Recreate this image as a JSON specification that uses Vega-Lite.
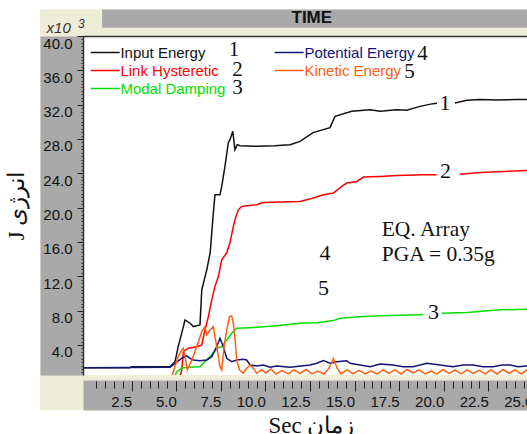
{
  "$schema": "https://vega.github.io/schema/vega-lite/v6.json",
  "width": 456,
  "height": 339,
  "autosize": {"type": "none"},
  "padding": {"left": 83, "top": 36, "right": -12, "bottom": 59},
  "background": "white",
  "config": {"view": {"stroke": null}, "axis": {"zindex": 1, "grid": false}},
  "resolve": {"axis": {"x": "independent", "y": "independent"}},
  "layer": [
    {
      "data": {"values": [{}]},
      "mark": {"type": "rect", "fill": "#eeeed8", "clip": false},
      "encoding": {
        "x": {"datum": -2.64, "type": "quantitative", "scale": {"domain": [-0.23, 25.34], "nice": false, "zero": false},
          "axis": {"zindex": 1, "orient": "bottom", "offset": 20, "domain": true, "domainColor": "#a9a9a9", "domainWidth": 30, "ticks": false, "labels": false, "title": null}},
        "x2": {"datum": 27},
        "y": {"datum": 43.09, "type": "quantitative", "scale": {"domain": [0.5, 40], "nice": false, "zero": false},
          "axis": {"zindex": 1, "orient": "left", "offset": 21.5, "domain": true, "domainColor": "#a9a9a9", "domainWidth": 43, "ticks": false, "labels": false, "title": null}},
        "y2": {"datum": -3.6}
      }
    },
    {
      "data": {"values": [{}]},
      "mark": {"type": "rect", "fill": "white", "clip": false},
      "encoding": {
        "x": {"datum": -0.23, "type": "quantitative", "scale": {"domain": [-0.23, 25.34], "nice": false, "zero": false},
          "axis": {"zindex": 1, "orient": "top", "offset": 0, "domain": true, "domainColor": "#333333", "domainWidth": 1.5, "ticks": false, "labels": false, "title": null}},
        "x2": {"datum": 25.34},
        "y": {"datum": 0.5, "type": "quantitative", "scale": {"domain": [0.5, 40], "nice": false, "zero": false},
          "axis": {"zindex": 1, "orient": "left", "values": [0.8,1.2,1.6,2,2.4,2.8,3.2,3.6,4,4.4,4.8,5.2,5.6,6,6.4,6.8,7.2,7.6,8,8.4,8.8,9.2,9.6,10,10.4,10.8,11.2,11.6,12,12.4,12.8,13.2,13.6,14,14.4,14.8,15.2,15.6,16,16.4,16.8,17.2,17.6,18,18.4,18.8,19.2,19.6,20,20.4,20.8,21.2,21.6,22,22.4,22.8,23.2,23.6,24,24.4,24.8,25.2,25.6,26,26.4,26.8,27.2,27.6,28,28.4,28.8,29.2,29.6,30,30.4,30.8,31.2,31.6,32,32.4,32.8,33.2,33.6,34,34.4,34.8,35.2,35.6,36,36.4,36.8,37.2,37.6,38,38.4,38.8,39.2,39.6,40], "domain": false, "tickSize": 2, "tickColor": "#333333", "labels": false, "title": null}},
        "y2": {"datum": 40}
      }
    },
    {
      "data": {"values": [{}]},
      "mark": {"type": "rect", "fill": "#a9a9a9", "clip": false},
      "encoding": {
        "x": {"datum": 0.84, "type": "quantitative", "scale": {"domain": [-0.23, 25.34], "nice": false, "zero": false},
          "axis": {"zindex": 1, "orient": "bottom", "offset": 6, "values": [0.5,1,1.5,2,2.5,3,3.5,4,4.5,5,5.5,6,6.5,7,7.5,8,8.5,9,9.5,10,10.5,11,11.5,12,12.5,13,13.5,14,14.5,15,15.5,16,16.5,17,17.5,18,18.5,19,19.5,20,20.5,21,21.5,22,22.5,23,23.5,24,24.5,25], "domain": false, "tickSize": 7, "tickColor": "#222222", "labels": false, "title": null}},
        "x2": {"datum": 27},
        "y": {"datum": 43.09, "type": "quantitative", "scale": {"domain": [0.5, 40], "nice": false, "zero": false},
          "axis": {"zindex": 1, "orient": "left", "values": [4,8,12,16,20,24,28,32,36,40], "format": ".1f", "domain": true, "domainColor": "#333333", "domainWidth": 1.5, "tickSize": 6, "tickColor": "#222222", "labelPadding": 5, "labelBaseline": "top", "labelDy": 3, "labelFont": "Liberation Sans", "labelFontSize": 15, "labelColor": "#111111", "labelFlush": false, "labelOverlap": false, "title": "J انرژی", "titleFont": "Liberation Serif", "titleFontSize": 23, "titleFontWeight": "normal", "titleColor": "#111111", "titlePadding": 14}},
        "y2": {"datum": 40.95}
      }
    },
    {
      "data": {"values": [
        {"series": "Input Energy", "part": "a", "t": -0.2, "e": 1.35},
        {"series": "Input Energy", "part": "a", "t": 2.4, "e": 1.35},
        {"series": "Input Energy", "part": "a", "t": 2.5, "e": 1.45},
        {"series": "Input Energy", "part": "a", "t": 4.65, "e": 1.45},
        {"series": "Input Energy", "part": "a", "t": 4.93, "e": 2.05},
        {"series": "Input Energy", "part": "a", "t": 5.11, "e": 3.8},
        {"series": "Input Energy", "part": "a", "t": 5.4, "e": 6.14},
        {"series": "Input Energy", "part": "a", "t": 5.49, "e": 6.92},
        {"series": "Input Energy", "part": "a", "t": 5.77, "e": 6.53},
        {"series": "Input Energy", "part": "a", "t": 5.96, "e": 6.14},
        {"series": "Input Energy", "part": "a", "t": 6.33, "e": 6.34},
        {"series": "Input Energy", "part": "a", "t": 6.43, "e": 10.42},
        {"series": "Input Energy", "part": "a", "t": 6.71, "e": 12.75},
        {"series": "Input Energy", "part": "a", "t": 6.9, "e": 14.74},
        {"series": "Input Energy", "part": "a", "t": 6.99, "e": 17.07},
        {"series": "Input Energy", "part": "a", "t": 7.08, "e": 19.4},
        {"series": "Input Energy", "part": "a", "t": 7.17, "e": 21.5},
        {"series": "Input Energy", "part": "a", "t": 7.45, "e": 21.5},
        {"series": "Input Energy", "part": "a", "t": 7.55, "e": 22.47},
        {"series": "Input Energy", "part": "a", "t": 7.73, "e": 24.8},
        {"series": "Input Energy", "part": "a", "t": 7.92, "e": 27.57},
        {"series": "Input Energy", "part": "a", "t": 8.01, "e": 27.92},
        {"series": "Input Energy", "part": "a", "t": 8.17, "e": 28.89},
        {"series": "Input Energy", "part": "a", "t": 8.29, "e": 26.75},
        {"series": "Input Energy", "part": "a", "t": 8.42, "e": 27.34},
        {"series": "Input Energy", "part": "a", "t": 8.58, "e": 27.22},
        {"series": "Input Energy", "part": "a", "t": 9.51, "e": 27.14},
        {"series": "Input Energy", "part": "a", "t": 10.5, "e": 27.2},
        {"series": "Input Energy", "part": "a", "t": 11.38, "e": 27.34},
        {"series": "Input Energy", "part": "a", "t": 11.94, "e": 27.72},
        {"series": "Input Energy", "part": "a", "t": 12.67, "e": 28.74},
        {"series": "Input Energy", "part": "a", "t": 13.62, "e": 29.32},
        {"series": "Input Energy", "part": "a", "t": 13.9, "e": 30.64},
        {"series": "Input Energy", "part": "a", "t": 14.84, "e": 31.22},
        {"series": "Input Energy", "part": "a", "t": 15.87, "e": 31.42},
        {"series": "Input Energy", "part": "a", "t": 16.43, "e": 31.22},
        {"series": "Input Energy", "part": "a", "t": 17.36, "e": 31.42},
        {"series": "Input Energy", "part": "a", "t": 17.92, "e": 31.34},
        {"series": "Input Energy", "part": "a", "t": 18.67, "e": 31.8},
        {"series": "Input Energy", "part": "a", "t": 19.4, "e": 32.12},
        {"series": "Input Energy", "part": "a", "t": 19.62, "e": 32.15},
        {"series": "Input Energy", "part": "b", "t": 20.63, "e": 32.2},
        {"series": "Input Energy", "part": "b", "t": 21.29, "e": 32.51},
        {"series": "Input Energy", "part": "b", "t": 22.04, "e": 32.59},
        {"series": "Input Energy", "part": "b", "t": 23.0, "e": 32.55},
        {"series": "Input Energy", "part": "b", "t": 24.0, "e": 32.6},
        {"series": "Input Energy", "part": "b", "t": 25.34, "e": 32.6},
        {"series": "Link Hysteretic", "part": "a", "t": -0.2, "e": 0.3},
        {"series": "Link Hysteretic", "part": "a", "t": 5.2, "e": 0.3},
        {"series": "Link Hysteretic", "part": "a", "t": 5.31, "e": 1.09},
        {"series": "Link Hysteretic", "part": "a", "t": 5.4, "e": 3.22},
        {"series": "Link Hysteretic", "part": "a", "t": 5.68, "e": 3.62},
        {"series": "Link Hysteretic", "part": "a", "t": 6.15, "e": 3.8},
        {"series": "Link Hysteretic", "part": "a", "t": 6.43, "e": 4.0},
        {"series": "Link Hysteretic", "part": "a", "t": 6.61, "e": 5.75},
        {"series": "Link Hysteretic", "part": "a", "t": 6.8, "e": 7.3},
        {"series": "Link Hysteretic", "part": "a", "t": 6.99, "e": 9.25},
        {"series": "Link Hysteretic", "part": "a", "t": 7.17, "e": 10.8},
        {"series": "Link Hysteretic", "part": "a", "t": 7.36, "e": 11.97},
        {"series": "Link Hysteretic", "part": "a", "t": 7.55, "e": 13.92},
        {"series": "Link Hysteretic", "part": "a", "t": 7.83, "e": 14.74},
        {"series": "Link Hysteretic", "part": "a", "t": 8.01, "e": 15.9},
        {"series": "Link Hysteretic", "part": "a", "t": 8.2, "e": 17.8},
        {"series": "Link Hysteretic", "part": "a", "t": 8.29, "e": 18.59},
        {"series": "Link Hysteretic", "part": "a", "t": 8.48, "e": 19.75},
        {"series": "Link Hysteretic", "part": "a", "t": 8.67, "e": 20.14},
        {"series": "Link Hysteretic", "part": "a", "t": 8.95, "e": 20.22},
        {"series": "Link Hysteretic", "part": "a", "t": 9.51, "e": 20.34},
        {"series": "Link Hysteretic", "part": "a", "t": 9.88, "e": 20.6},
        {"series": "Link Hysteretic", "part": "a", "t": 11.94, "e": 20.72},
        {"series": "Link Hysteretic", "part": "a", "t": 12.69, "e": 21.12},
        {"series": "Link Hysteretic", "part": "a", "t": 13.25, "e": 21.5},
        {"series": "Link Hysteretic", "part": "a", "t": 13.81, "e": 21.7},
        {"series": "Link Hysteretic", "part": "a", "t": 14.28, "e": 22.47},
        {"series": "Link Hysteretic", "part": "a", "t": 14.56, "e": 22.87},
        {"series": "Link Hysteretic", "part": "a", "t": 15.12, "e": 23.05},
        {"series": "Link Hysteretic", "part": "a", "t": 15.49, "e": 23.57},
        {"series": "Link Hysteretic", "part": "a", "t": 16.43, "e": 23.64},
        {"series": "Link Hysteretic", "part": "a", "t": 17.36, "e": 23.75},
        {"series": "Link Hysteretic", "part": "a", "t": 18.86, "e": 23.84},
        {"series": "Link Hysteretic", "part": "a", "t": 19.6, "e": 23.84},
        {"series": "Link Hysteretic", "part": "b", "t": 20.9, "e": 23.9},
        {"series": "Link Hysteretic", "part": "b", "t": 22.04, "e": 24.1},
        {"series": "Link Hysteretic", "part": "b", "t": 24.65, "e": 24.34},
        {"series": "Link Hysteretic", "part": "b", "t": 25.34, "e": 24.34},
        {"series": "Modal Damping", "part": "a", "t": -0.2, "e": 0.3},
        {"series": "Modal Damping", "part": "a", "t": 4.9, "e": 0.3},
        {"series": "Modal Damping", "part": "a", "t": 5.03, "e": 0.89},
        {"series": "Modal Damping", "part": "a", "t": 5.31, "e": 1.28},
        {"series": "Modal Damping", "part": "a", "t": 5.59, "e": 1.4},
        {"series": "Modal Damping", "part": "a", "t": 6.33, "e": 1.47},
        {"series": "Modal Damping", "part": "a", "t": 6.61, "e": 2.05},
        {"series": "Modal Damping", "part": "a", "t": 6.9, "e": 2.64},
        {"series": "Modal Damping", "part": "a", "t": 7.27, "e": 3.62},
        {"series": "Modal Damping", "part": "a", "t": 7.55, "e": 3.8},
        {"series": "Modal Damping", "part": "a", "t": 7.83, "e": 4.59},
        {"series": "Modal Damping", "part": "a", "t": 8.11, "e": 5.37},
        {"series": "Modal Damping", "part": "a", "t": 8.39, "e": 5.95},
        {"series": "Modal Damping", "part": "a", "t": 9.14, "e": 6.02},
        {"series": "Modal Damping", "part": "a", "t": 10.07, "e": 6.14},
        {"series": "Modal Damping", "part": "a", "t": 11.0, "e": 6.34},
        {"series": "Modal Damping", "part": "a", "t": 11.94, "e": 6.53},
        {"series": "Modal Damping", "part": "a", "t": 12.88, "e": 6.6},
        {"series": "Modal Damping", "part": "a", "t": 13.81, "e": 6.84},
        {"series": "Modal Damping", "part": "a", "t": 14.18, "e": 7.12},
        {"series": "Modal Damping", "part": "a", "t": 15.31, "e": 7.3},
        {"series": "Modal Damping", "part": "a", "t": 16.43, "e": 7.39},
        {"series": "Modal Damping", "part": "a", "t": 18.3, "e": 7.5},
        {"series": "Modal Damping", "part": "a", "t": 18.86, "e": 7.55},
        {"series": "Modal Damping", "part": "b", "t": 19.89, "e": 7.7},
        {"series": "Modal Damping", "part": "b", "t": 21.29, "e": 7.77},
        {"series": "Modal Damping", "part": "b", "t": 23.16, "e": 8.09},
        {"series": "Modal Damping", "part": "b", "t": 24.65, "e": 8.17},
        {"series": "Modal Damping", "part": "b", "t": 25.34, "e": 8.17},
        {"series": "Potential Energy", "part": "a", "t": -0.2, "e": 1.35},
        {"series": "Potential Energy", "part": "a", "t": 4.65, "e": 1.4},
        {"series": "Potential Energy", "part": "a", "t": 5.31, "e": 2.45},
        {"series": "Potential Energy", "part": "a", "t": 5.59, "e": 2.72},
        {"series": "Potential Energy", "part": "a", "t": 5.77, "e": 2.45},
        {"series": "Potential Energy", "part": "a", "t": 5.96, "e": 2.25},
        {"series": "Potential Energy", "part": "a", "t": 6.33, "e": 2.17},
        {"series": "Potential Energy", "part": "a", "t": 6.71, "e": 2.25},
        {"series": "Potential Energy", "part": "a", "t": 6.99, "e": 2.64},
        {"series": "Potential Energy", "part": "a", "t": 7.27, "e": 3.8},
        {"series": "Potential Energy", "part": "a", "t": 7.45, "e": 4.78},
        {"series": "Potential Energy", "part": "a", "t": 7.64, "e": 3.8},
        {"series": "Potential Energy", "part": "a", "t": 7.83, "e": 2.45},
        {"series": "Potential Energy", "part": "a", "t": 8.11, "e": 2.05},
        {"series": "Potential Energy", "part": "a", "t": 8.39, "e": 2.25},
        {"series": "Potential Energy", "part": "a", "t": 8.76, "e": 2.33},
        {"series": "Potential Energy", "part": "a", "t": 8.95, "e": 2.25},
        {"series": "Potential Energy", "part": "a", "t": 9.14, "e": 1.67},
        {"series": "Potential Energy", "part": "a", "t": 9.51, "e": 1.55},
        {"series": "Potential Energy", "part": "a", "t": 9.88, "e": 1.67},
        {"series": "Potential Energy", "part": "a", "t": 10.26, "e": 1.4},
        {"series": "Potential Energy", "part": "a", "t": 10.63, "e": 1.55},
        {"series": "Potential Energy", "part": "a", "t": 11.38, "e": 1.4},
        {"series": "Potential Energy", "part": "a", "t": 12.5, "e": 1.67},
        {"series": "Potential Energy", "part": "a", "t": 12.88, "e": 1.87},
        {"series": "Potential Energy", "part": "a", "t": 13.25, "e": 2.17},
        {"series": "Potential Energy", "part": "a", "t": 13.62, "e": 1.87},
        {"series": "Potential Energy", "part": "a", "t": 14.0, "e": 2.05},
        {"series": "Potential Energy", "part": "a", "t": 14.56, "e": 2.17},
        {"series": "Potential Energy", "part": "a", "t": 14.74, "e": 1.87},
        {"series": "Potential Energy", "part": "a", "t": 15.31, "e": 1.67},
        {"series": "Potential Energy", "part": "a", "t": 15.87, "e": 1.47},
        {"series": "Potential Energy", "part": "a", "t": 16.43, "e": 1.79},
        {"series": "Potential Energy", "part": "a", "t": 17.16, "e": 1.67},
        {"series": "Potential Energy", "part": "a", "t": 17.72, "e": 1.47},
        {"series": "Potential Energy", "part": "a", "t": 18.28, "e": 1.47},
        {"series": "Potential Energy", "part": "a", "t": 19.05, "e": 1.87},
        {"series": "Potential Energy", "part": "a", "t": 19.79, "e": 1.67},
        {"series": "Potential Energy", "part": "a", "t": 20.52, "e": 1.47},
        {"series": "Potential Energy", "part": "a", "t": 21.08, "e": 1.67},
        {"series": "Potential Energy", "part": "a", "t": 21.64, "e": 1.67},
        {"series": "Potential Energy", "part": "a", "t": 22.2, "e": 1.47},
        {"series": "Potential Energy", "part": "a", "t": 22.77, "e": 1.47},
        {"series": "Potential Energy", "part": "a", "t": 23.27, "e": 1.67},
        {"series": "Potential Energy", "part": "a", "t": 23.72, "e": 1.67},
        {"series": "Potential Energy", "part": "a", "t": 24.17, "e": 1.47},
        {"series": "Potential Energy", "part": "a", "t": 24.65, "e": 1.55},
        {"series": "Potential Energy", "part": "a", "t": 25.34, "e": 1.6},
        {"series": "Kinetic Energy", "part": "a", "t": -0.2, "e": 0.3},
        {"series": "Kinetic Energy", "part": "a", "t": 4.75, "e": 0.3},
        {"series": "Kinetic Energy", "part": "a", "t": 4.83, "e": 0.85},
        {"series": "Kinetic Energy", "part": "a", "t": 5.11, "e": 2.64},
        {"series": "Kinetic Energy", "part": "a", "t": 5.31, "e": 3.42},
        {"series": "Kinetic Energy", "part": "a", "t": 5.4, "e": 3.62},
        {"series": "Kinetic Energy", "part": "a", "t": 5.49, "e": 2.64},
        {"series": "Kinetic Energy", "part": "a", "t": 5.62, "e": 1.09},
        {"series": "Kinetic Energy", "part": "a", "t": 5.87, "e": 2.25},
        {"series": "Kinetic Energy", "part": "a", "t": 6.15, "e": 3.8},
        {"series": "Kinetic Energy", "part": "a", "t": 6.43, "e": 5.55},
        {"series": "Kinetic Energy", "part": "a", "t": 6.61, "e": 6.14},
        {"series": "Kinetic Energy", "part": "a", "t": 6.71, "e": 5.17},
        {"series": "Kinetic Energy", "part": "a", "t": 6.89, "e": 5.75},
        {"series": "Kinetic Energy", "part": "a", "t": 7.08, "e": 6.14},
        {"series": "Kinetic Energy", "part": "a", "t": 7.17, "e": 4.97},
        {"series": "Kinetic Energy", "part": "a", "t": 7.27, "e": 3.8},
        {"series": "Kinetic Energy", "part": "a", "t": 7.45, "e": 1.47},
        {"series": "Kinetic Energy", "part": "a", "t": 7.55, "e": 1.09},
        {"series": "Kinetic Energy", "part": "a", "t": 7.68, "e": 3.8},
        {"series": "Kinetic Energy", "part": "a", "t": 7.83, "e": 5.75},
        {"series": "Kinetic Energy", "part": "a", "t": 7.98, "e": 7.3},
        {"series": "Kinetic Energy", "part": "a", "t": 8.11, "e": 7.39},
        {"series": "Kinetic Energy", "part": "a", "t": 8.2, "e": 6.53},
        {"series": "Kinetic Energy", "part": "a", "t": 8.29, "e": 4.78},
        {"series": "Kinetic Energy", "part": "a", "t": 8.39, "e": 2.25},
        {"series": "Kinetic Energy", "part": "a", "t": 8.54, "e": 1.09},
        {"series": "Kinetic Energy", "part": "a", "t": 8.76, "e": 0.7},
        {"series": "Kinetic Energy", "part": "a", "t": 8.95, "e": 1.28},
        {"series": "Kinetic Energy", "part": "a", "t": 9.14, "e": 1.67},
        {"series": "Kinetic Energy", "part": "a", "t": 9.32, "e": 1.28},
        {"series": "Kinetic Energy", "part": "a", "t": 9.51, "e": 0.7},
        {"series": "Kinetic Energy", "part": "a", "t": 9.79, "e": 1.09},
        {"series": "Kinetic Energy", "part": "a", "t": 10.03, "e": 0.74},
        {"series": "Kinetic Energy", "part": "a", "t": 10.31, "e": 1.2},
        {"series": "Kinetic Energy", "part": "a", "t": 10.59, "e": 0.62},
        {"series": "Kinetic Energy", "part": "a", "t": 10.93, "e": 1.0},
        {"series": "Kinetic Energy", "part": "a", "t": 11.27, "e": 0.62},
        {"series": "Kinetic Energy", "part": "a", "t": 11.6, "e": 1.09},
        {"series": "Kinetic Energy", "part": "a", "t": 11.94, "e": 0.68},
        {"series": "Kinetic Energy", "part": "a", "t": 12.28, "e": 1.14},
        {"series": "Kinetic Energy", "part": "a", "t": 12.61, "e": 0.62},
        {"series": "Kinetic Energy", "part": "a", "t": 12.95, "e": 0.97},
        {"series": "Kinetic Energy", "part": "a", "t": 13.29, "e": 0.62},
        {"series": "Kinetic Energy", "part": "a", "t": 13.57, "e": 1.32},
        {"series": "Kinetic Energy", "part": "a", "t": 13.81, "e": 2.4},
        {"series": "Kinetic Energy", "part": "a", "t": 14.02, "e": 1.32},
        {"series": "Kinetic Energy", "part": "a", "t": 14.24, "e": 0.62},
        {"series": "Kinetic Energy", "part": "a", "t": 14.58, "e": 1.09},
        {"series": "Kinetic Energy", "part": "a", "t": 14.91, "e": 0.62},
        {"series": "Kinetic Energy", "part": "a", "t": 15.25, "e": 1.03},
        {"series": "Kinetic Energy", "part": "a", "t": 15.59, "e": 0.62},
        {"series": "Kinetic Energy", "part": "a", "t": 15.92, "e": 0.97},
        {"series": "Kinetic Energy", "part": "a", "t": 16.26, "e": 0.62},
        {"series": "Kinetic Energy", "part": "a", "t": 16.6, "e": 1.09},
        {"series": "Kinetic Energy", "part": "a", "t": 16.93, "e": 0.68},
        {"series": "Kinetic Energy", "part": "a", "t": 17.27, "e": 1.09},
        {"series": "Kinetic Energy", "part": "a", "t": 17.61, "e": 0.62},
        {"series": "Kinetic Energy", "part": "a", "t": 17.94, "e": 1.14},
        {"series": "Kinetic Energy", "part": "a", "t": 18.28, "e": 0.74},
        {"series": "Kinetic Energy", "part": "a", "t": 18.62, "e": 1.09},
        {"series": "Kinetic Energy", "part": "a", "t": 18.95, "e": 0.62},
        {"series": "Kinetic Energy", "part": "a", "t": 19.29, "e": 0.97},
        {"series": "Kinetic Energy", "part": "a", "t": 19.62, "e": 0.62},
        {"series": "Kinetic Energy", "part": "a", "t": 19.96, "e": 1.14},
        {"series": "Kinetic Energy", "part": "a", "t": 20.3, "e": 0.68},
        {"series": "Kinetic Energy", "part": "a", "t": 20.63, "e": 1.09},
        {"series": "Kinetic Energy", "part": "a", "t": 20.97, "e": 0.62},
        {"series": "Kinetic Energy", "part": "a", "t": 21.31, "e": 1.09},
        {"series": "Kinetic Energy", "part": "a", "t": 21.64, "e": 0.68},
        {"series": "Kinetic Energy", "part": "a", "t": 21.98, "e": 1.03},
        {"series": "Kinetic Energy", "part": "a", "t": 22.32, "e": 0.62},
        {"series": "Kinetic Energy", "part": "a", "t": 22.65, "e": 1.09},
        {"series": "Kinetic Energy", "part": "a", "t": 22.99, "e": 0.62},
        {"series": "Kinetic Energy", "part": "a", "t": 23.33, "e": 1.14},
        {"series": "Kinetic Energy", "part": "a", "t": 23.66, "e": 0.68},
        {"series": "Kinetic Energy", "part": "a", "t": 24.0, "e": 1.09},
        {"series": "Kinetic Energy", "part": "a", "t": 24.34, "e": 0.62},
        {"series": "Kinetic Energy", "part": "a", "t": 24.67, "e": 1.09},
        {"series": "Kinetic Energy", "part": "a", "t": 25.0, "e": 0.62},
        {"series": "Kinetic Energy", "part": "a", "t": 25.34, "e": 1.09}
      ]},
      "mark": {"type": "line", "strokeWidth": 1.5, "clip": true},
      "encoding": {
        "x": {"field": "t", "type": "quantitative", "scale": {"domain": [-0.23, 25.34], "nice": false, "zero": false},
          "axis": {"zindex": 1, "orient": "bottom", "offset": 6, "values": [2.5,5,7.5,10,12.5,15,17.5,20,22.5,25], "format": ".1f", "domain": false, "tickSize": 10, "tickColor": "#222222", "labelAlign": "right", "labelDx": -1, "labelBaseline": "top", "labelPadding": 3, "labelFont": "Liberation Sans", "labelFontSize": 15, "labelColor": "#111111", "labelFlush": false, "labelOverlap": false, "labelBound": false, "title": "Sec  زمان", "titleFont": "Liberation Serif", "titleFontSize": 23, "titleFontWeight": "normal", "titleColor": "#111111", "titlePadding": 5}},
        "y": {"field": "e", "type": "quantitative", "scale": {"domain": [0.5, 40], "nice": false, "zero": false}, "axis": null},
        "detail": {"field": "part"},
        "color": {"field": "series", "type": "nominal",
          "scale": {"domain": ["Input Energy", "Link Hysteretic", "Modal Damping", "Potential Energy", "Kinetic Energy"], "range": ["#111111", "#ff0000", "#00e000", "#141478", "#ff6010"]},
          "legend": {"title": null, "orient": "none", "legendX": 14.2, "legendY": 8.5, "columns": 2, "columnPadding": 45, "rowPadding": 2, "gridAlign": "each", "symbolType": "M-2,0H2", "symbolSize": 210, "symbolStrokeWidth": 1.5, "labelFont": "Liberation Sans", "labelFontSize": 15, "labelOffset": 7.2, "padding": 0, "labelLimit": 300,
            "encode": {"labels": {"update": {"fill": {"scale": "color", "field": "value"}}}}}}
      }
    },
    {"data": {"values": [{}]}, "mark": {"type": "text", "text": "TIME", "font": "Liberation Sans", "fontSize": 17, "fontWeight": "bold", "align": "center", "baseline": "middle", "color": "#111111", "clip": false},
      "encoding": {"x": {"datum": 12.6, "type": "quantitative", "axis": null}, "y": {"datum": 42.12, "type": "quantitative", "axis": null}}},
    {"data": {"values": [{}]}, "mark": {"type": "text", "text": "x10", "font": "Liberation Sans", "fontSize": 15, "fontStyle": "italic", "align": "left", "baseline": "alphabetic", "color": "#333333", "clip": false},
      "encoding": {"x": {"datum": -2.27, "type": "quantitative", "axis": null}, "y": {"datum": 40.4, "type": "quantitative", "axis": null}}},
    {"data": {"values": [{}]}, "mark": {"type": "text", "text": "3", "font": "Liberation Sans", "fontSize": 12, "fontStyle": "italic", "align": "left", "baseline": "alphabetic", "color": "#333333", "clip": false},
      "encoding": {"x": {"datum": -0.51, "type": "quantitative", "axis": null}, "y": {"datum": 40.99, "type": "quantitative", "axis": null}}},
    {"data": {"values": [{}]}, "mark": {"type": "text", "text": "1", "font": "Liberation Serif", "fontSize": 21, "align": "center", "baseline": "middle", "color": "#111111"},
      "encoding": {"x": {"datum": 8.24, "type": "quantitative", "axis": null}, "y": {"datum": 38.42, "type": "quantitative", "axis": null}}},
    {"data": {"values": [{}]}, "mark": {"type": "text", "text": "2", "font": "Liberation Serif", "fontSize": 21, "align": "center", "baseline": "middle", "color": "#111111"},
      "encoding": {"x": {"datum": 8.44, "type": "quantitative", "axis": null}, "y": {"datum": 36.03, "type": "quantitative", "axis": null}}},
    {"data": {"values": [{}]}, "mark": {"type": "text", "text": "3", "font": "Liberation Serif", "fontSize": 21, "align": "center", "baseline": "middle", "color": "#111111"},
      "encoding": {"x": {"datum": 8.44, "type": "quantitative", "axis": null}, "y": {"datum": 33.93, "type": "quantitative", "axis": null}}},
    {"data": {"values": [{}]}, "mark": {"type": "text", "text": "4", "font": "Liberation Serif", "fontSize": 21, "align": "center", "baseline": "middle", "color": "#111111"},
      "encoding": {"x": {"datum": 18.81, "type": "quantitative", "axis": null}, "y": {"datum": 37.9, "type": "quantitative", "axis": null}}},
    {"data": {"values": [{}]}, "mark": {"type": "text", "text": "5", "font": "Liberation Serif", "fontSize": 21, "align": "center", "baseline": "middle", "color": "#111111"},
      "encoding": {"x": {"datum": 18.08, "type": "quantitative", "axis": null}, "y": {"datum": 35.8, "type": "quantitative", "axis": null}}},
    {"data": {"values": [{}]}, "mark": {"type": "text", "text": "1", "font": "Liberation Serif", "fontSize": 22, "align": "center", "baseline": "middle", "color": "#111111"},
      "encoding": {"x": {"datum": 20.07, "type": "quantitative", "axis": null}, "y": {"datum": 32.2, "type": "quantitative", "axis": null}}},
    {"data": {"values": [{}]}, "mark": {"type": "text", "text": "2", "font": "Liberation Serif", "fontSize": 22, "align": "center", "baseline": "middle", "color": "#111111"},
      "encoding": {"x": {"datum": 20.1, "type": "quantitative", "axis": null}, "y": {"datum": 24.24, "type": "quantitative", "axis": null}}},
    {"data": {"values": [{}]}, "mark": {"type": "text", "text": "3", "font": "Liberation Serif", "fontSize": 22, "align": "center", "baseline": "middle", "color": "#111111"},
      "encoding": {"x": {"datum": 19.42, "type": "quantitative", "axis": null}, "y": {"datum": 7.79, "type": "quantitative", "axis": null}}},
    {"data": {"values": [{}]}, "mark": {"type": "text", "text": "4", "font": "Liberation Serif", "fontSize": 22, "align": "center", "baseline": "middle", "color": "#111111"},
      "encoding": {"x": {"datum": 13.34, "type": "quantitative", "axis": null}, "y": {"datum": 14.7, "type": "quantitative", "axis": null}}},
    {"data": {"values": [{}]}, "mark": {"type": "text", "text": "5", "font": "Liberation Serif", "fontSize": 22, "align": "center", "baseline": "middle", "color": "#111111"},
      "encoding": {"x": {"datum": 13.25, "type": "quantitative", "axis": null}, "y": {"datum": 10.62, "type": "quantitative", "axis": null}}},
    {"data": {"values": [{}]}, "mark": {"type": "text", "text": "EQ. Array", "font": "Liberation Serif", "fontSize": 21.5, "align": "left", "baseline": "alphabetic", "color": "#111111"},
      "encoding": {"x": {"datum": 16.52, "type": "quantitative", "axis": null}, "y": {"datum": 16.72, "type": "quantitative", "axis": null}}},
    {"data": {"values": [{}]}, "mark": {"type": "text", "text": "PGA = 0.35g", "font": "Liberation Serif", "fontSize": 21.5, "align": "left", "baseline": "alphabetic", "color": "#111111"},
      "encoding": {"x": {"datum": 16.52, "type": "quantitative", "axis": null}, "y": {"datum": 13.8, "type": "quantitative", "axis": null}}}
  ]
}
